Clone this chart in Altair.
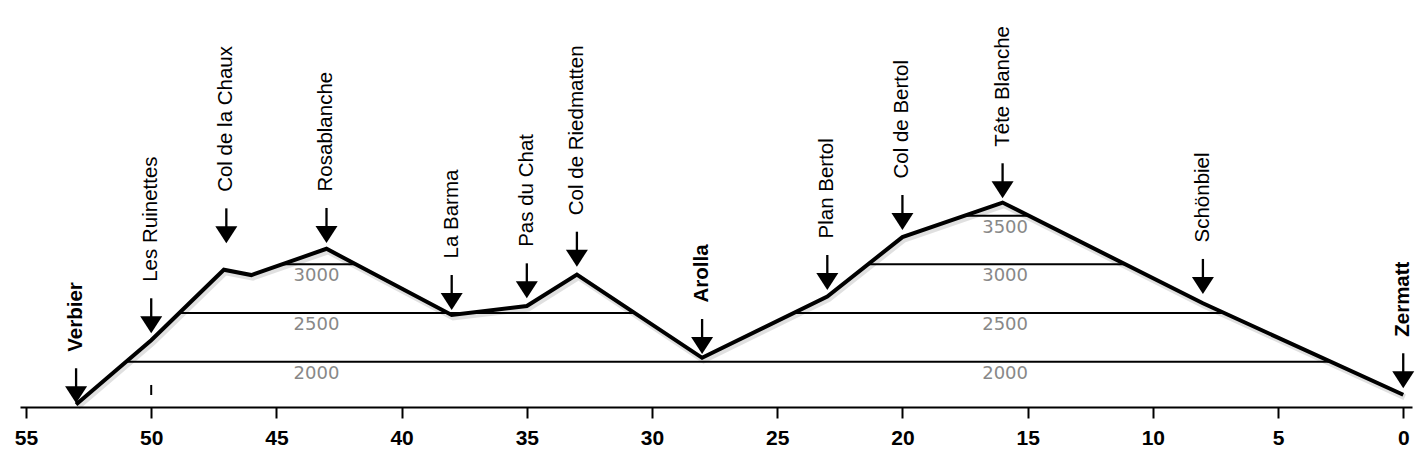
import altair as alt
import pandas as pd

# Elevation profile (distance to Zermatt in km, elevation in m)
profile_km = [53, 50, 47.1, 46, 43, 38, 35, 33, 28, 23, 20, 16, 8, 0]
profile_elev = [1560, 2220, 2945, 2890, 3160, 2480, 2572, 2895, 2040, 2670, 3280, 3635, 2600, 1660]

# Contour segments inside the profile
contour_level = [2000, 2500, 2500, 3000, 3000, 3500]
contour_from = [51.0, 48.9, 24.35, 44.78, 21.38, 17.52]
contour_to = [2.9, 30.7, 7.15, 41.82, 11.09, 14.96]

# Contour labels
clabel_text = ["2000", "2500", "3000", "2000", "2500", "3000", "3500"]
clabel_km = [43.4, 43.4, 43.4, 15.9, 15.9, 15.9, 15.9]
clabel_level = [2000, 2500, 3000, 2000, 2500, 3000, 3500]

# Waypoints
wp_names = ["Verbier", "Les Ruinettes", "Col de la Chaux", "Rosablanche", "La Barma",
            "Pas du Chat", "Col de Riedmatten", "Arolla", "Plan Bertol", "Col de Bertol",
            "Tête Blanche", "Schönbiel", "Zermatt"]
wp_km = [53, 50, 47, 43, 38, 35, 33, 28, 23, 20, 16, 8, 0]
wp_arrow_elev = [1573, 2292, 3216, 3220, 2531, 2651, 2976, 2079, 2737, 3353, 3679, 2696, 1727]
wp_bold = [True, False, False, False, False, False, False, True, False, False, False, False, True]

# small stray mark
mark_km = [50]
mark_lo = [1658]
mark_hi = [1761]

tick_values = [0, 5, 10, 15, 20, 25, 30, 35, 40, 45, 50, 55]

profile_df = pd.DataFrame({"km": profile_km, "elev": profile_elev})
contour_df = pd.DataFrame({"level": contour_level, "km_from": contour_from, "km_to": contour_to})
clabel_df = pd.DataFrame({"label": clabel_text, "km": clabel_km, "level": clabel_level})
wp_df = pd.DataFrame({"name": wp_names, "km": wp_km, "arrow": wp_arrow_elev, "bold": wp_bold})
mark_df = pd.DataFrame({"km": mark_km, "lo": mark_lo, "hi": mark_hi})

xscale = alt.Scale(domain=[-0.35, 55.24], reverse=True, nice=False, zero=False)
yscale = alt.Scale(domain=[1534.6, 5634], nice=False, zero=False)
xaxis = alt.Axis(values=tick_values, title=None, grid=False, domain=True, domainColor="black",
                 domainWidth=2, ticks=True, tickColor="black", tickWidth=2, tickSize=11,
                 labelFont="Liberation Sans", labelFontWeight="bold", labelFontSize=21,
                 labelColor="black", labelPadding=9, labelOverlap=False)


def X(field):
    return alt.X(field, type="quantitative", scale=xscale, axis=xaxis)


def Y(field):
    return alt.Y(field, type="quantitative", scale=yscale, axis=None)


contours = alt.Chart(contour_df).mark_rule(color="black", strokeWidth=2).encode(
    x=X("km_from"), x2="km_to:Q", y=Y("level"))

clabels = alt.Chart(clabel_df).mark_text(
    font="DejaVu Sans", fontSize=18, color="#888888", align="center", baseline="middle",
    yOffset=12).encode(x=X("km"), y=Y("level"), text="label:N")

stray = alt.Chart(mark_df).mark_rule(color="black", strokeWidth=2).encode(
    x=X("km"), y=Y("lo"), y2="hi:Q")

shadow = alt.Chart(profile_df).mark_line(
    color="#000000", opacity=0.12, strokeWidth=6, xOffset=1.5, yOffset=2.5,
    strokeJoin="miter").encode(x=X("km"), y=Y("elev"))

profile = alt.Chart(profile_df).mark_line(
    color="black", strokeWidth=4, strokeJoin="miter").encode(x=X("km"), y=Y("elev"))

shafts = alt.Chart(wp_df).mark_rule(
    color="black", strokeWidth=2.3, yOffset=-35, y2Offset=-15).encode(
    x=X("km"), y=Y("arrow"), y2="arrow:Q")

heads = alt.Chart(wp_df).mark_point(
    shape="M-1,-1.55L1,-1.55L0,0Z", size=484, filled=True, color="black",
    opacity=1, strokeWidth=0).encode(x=X("km"), y=Y("arrow"))

labels_normal = alt.Chart(wp_df).transform_filter("!datum.bold").mark_text(
    angle=270, align="left", baseline="middle", font="Liberation Sans", fontSize=20.5,
    color="black", yOffset=-51.5).encode(x=X("km"), y=Y("arrow"), text="name:N")

labels_bold = alt.Chart(wp_df).transform_filter("datum.bold").mark_text(
    angle=270, align="left", baseline="middle", font="Liberation Sans", fontSize=20.5,
    fontWeight="bold", color="black", yOffset=-51.5).encode(
    x=X("km"), y=Y("arrow"), text="name:N")

chart = alt.layer(
    contours, clabels, stray, shadow, profile, shafts, heads, labels_normal, labels_bold
).properties(
    width=1392, height=399,
    autosize=alt.AutoSizeParams(type="none"),
    padding={"left": 12, "top": 0, "right": 6, "bottom": 45},
    background="white",
).configure_view(strokeWidth=0)

chart.save("out.html", embed_options={"renderer": "svg", "actions": False})
